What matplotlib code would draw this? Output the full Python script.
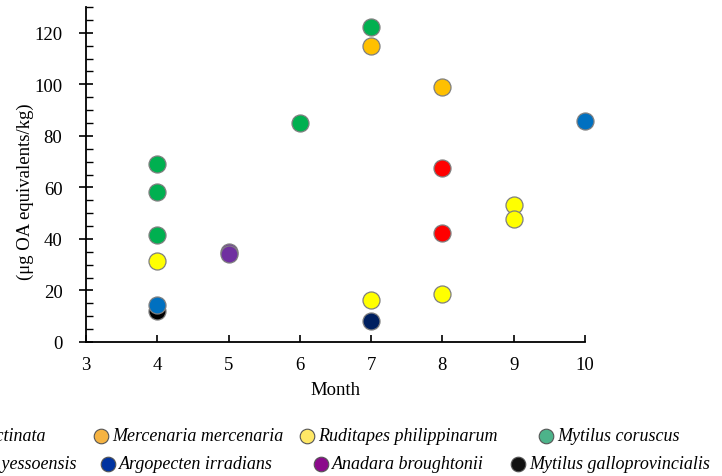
import matplotlib
matplotlib.use("Agg")
import matplotlib.pyplot as plt
from matplotlib.lines import Line2D
from matplotlib.ticker import MultipleLocator

plt.rcParams['font.family'] = ['Liberation Serif', 'DejaVu Serif']

# ---- data ----
species = ["Mytilus galloprovincialis", "Atrina pectinata", "Mercenaria mercenaria",
           "Ruditapes philippinarum", "Mytilus coruscus", "Patinopecten yessoensis",
           "Argopecten irradians", "Anadara broughtonii"]
months = {
    "Mytilus galloprovincialis": [4],
    "Atrina pectinata": [8, 8],
    "Mercenaria mercenaria": [7, 8],
    "Ruditapes philippinarum": [4, 7, 8, 9, 9],
    "Mytilus coruscus": [4, 4, 4, 6, 7],
    "Patinopecten yessoensis": [7],
    "Argopecten irradians": [4, 10],
    "Anadara broughtonii": [5, 5],
}
values = {
    "Mytilus galloprovincialis": [12.1],
    "Atrina pectinata": [67.4, 42.4],
    "Mercenaria mercenaria": [114.7, 98.9],
    "Ruditapes philippinarum": [31.6, 16.4, 18.7, 53.1, 47.6],
    "Mytilus coruscus": [69.0, 58.4, 41.6, 85.0, 122.4],
    "Patinopecten yessoensis": [8.2],
    "Argopecten irradians": [14.4, 85.7],
    "Anadara broughtonii": [35.0, 34.0],
}
point_colors = {
    "Mytilus galloprovincialis": "#000000",
    "Atrina pectinata": "#FF0000",
    "Mercenaria mercenaria": "#FFC000",
    "Ruditapes philippinarum": "#FFFF00",
    "Mytilus coruscus": "#00B050",
    "Patinopecten yessoensis": "#002060",
    "Argopecten irradians": "#0070C0",
    "Anadara broughtonii": "#7030A0",
}
legend_colors = {
    "Atrina pectinata": "#FF0000",
    "Mercenaria mercenaria": "#F5B342",
    "Ruditapes philippinarum": "#FFE866",
    "Mytilus coruscus": "#4DB38A",
    "Patinopecten yessoensis": "#002060",
    "Argopecten irradians": "#0033A0",
    "Anadara broughtonii": "#8B0A8B",
    "Mytilus galloprovincialis": "#111111",
}
x_ticks = [3, 4, 5, 6, 7, 8, 9, 10]
y_ticks = [0, 20, 40, 60, 80, 100, 120]

W, H = 722, 477
fig = plt.figure(figsize=(W / 100, H / 100), dpi=100)
ax = fig.add_axes([86 / W, 1 - 343 / H, 499 / W, 335 / H])

for sp in species:
    ax.scatter(months[sp], values[sp], s=150, c=point_colors[sp],
               edgecolors="#7F7F7F", linewidths=0.9, zorder=3, clip_on=False)

ax.set_xlim(3, 10)
ax.set_ylim(0, 130)
ax.set_xticks(x_ticks)
ax.set_yticks(y_ticks)
ax.yaxis.set_minor_locator(MultipleLocator(5))
for s in ["top", "right"]:
    ax.spines[s].set_visible(False)
for s in ["left", "bottom"]:
    ax.spines[s].set_linewidth(1.3)
ax.tick_params(axis="y", which="major", direction="inout", length=10, width=1.2,
               labelsize=13.5, pad=12)
ax.tick_params(axis="y", which="minor", direction="in", length=5, width=1.0)
ax.tick_params(axis="x", which="major", direction="in", length=5, width=1.2,
               labelsize=13.5, pad=10)
ax.set_xlabel("Month", fontsize=13.5, labelpad=6)
fig.text(25 / W, 1 - 192 / H, "(μg OA equivalents/kg)", rotation=90,
         ha="center", va="center", fontsize=13.5)

# ---- legend (manually placed entries, cropped at left like the reference) ----
leg_pos = {
    "Atrina pectinata": (-150, 437),
    "Mercenaria mercenaria": (101, 437),
    "Ruditapes philippinarum": (307, 437),
    "Mytilus coruscus": (546, 437),
    "Patinopecten yessoensis": (-115, 465),
    "Argopecten irradians": (108, 465),
    "Anadara broughtonii": (321, 465),
    "Mytilus galloprovincialis": (518, 465),
}
text_right = {"Atrina pectinata": 46, "Patinopecten yessoensis": 77}
for sp, (px, py) in leg_pos.items():
    fig.add_artist(Line2D([px / W], [1 - py / H], marker="o", markersize=10.5,
                          markerfacecolor=legend_colors[sp], markeredgecolor="#555555",
                          markeredgewidth=0.8, linestyle="none",
                          transform=fig.transFigure))
    if sp in text_right:
        fig.text(text_right[sp] / W, 1 - py / H, sp, ha="right", va="center",
                 fontsize=13, style="italic")
    else:
        fig.text((px + 11) / W, 1 - py / H, sp, ha="left", va="center",
                 fontsize=13, style="italic")

fig.savefig("out.png", dpi=100)
